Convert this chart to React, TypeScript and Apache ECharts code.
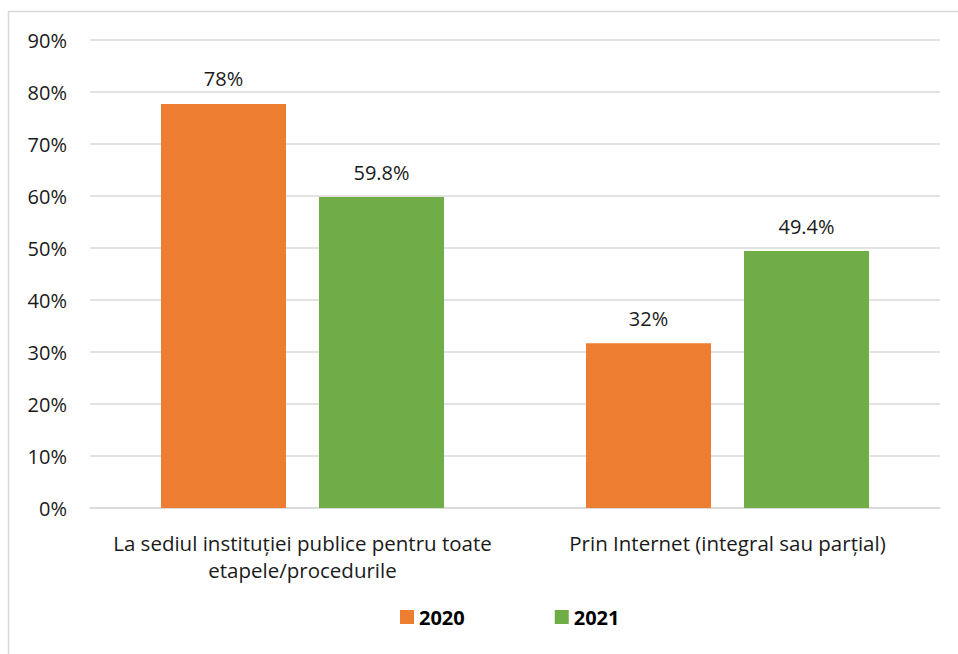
import React, { useEffect, useRef } from "react";
import * as echarts from "echarts";

const categories = [
  "La sediul instituției publice pentru toate\netapele/procedurile",
  "Prin Internet (integral sau parțial)",
];
const seriesNames = ["2020", "2021"];
const values2020 = [77.7, 31.7];
const values2021 = [59.8, 49.4];
const labels2020 = ["78%", "32%"];
const labels2021 = ["59.8%", "49.4%"];
const colors = ["#ED7D31", "#70AD47"];

const FONT = "'Open Sans', 'Noto Sans', sans-serif";

export default function App() {
  const ref = useRef<HTMLDivElement>(null);
  useEffect(() => {
    if (!ref.current) return;
    const chart = echarts.init(ref.current, null, { renderer: "svg" });
    const mkLabel = (labels: string[]) => ({
      show: true,
      position: "top",
      distance: 15,
      fontSize: 20,
      fontFamily: FONT,
      color: "#1a1a1a",
      formatter: (p: any) => labels[p.dataIndex],
    });
    chart.setOption({
      animation: false,
      backgroundColor: "#ffffff",
      textStyle: { fontFamily: FONT },
      graphic: [
        {
          type: "polyline",
          shape: { points: [[8.5, 660], [8.5, 11.5], [965, 11.5]] },
          style: { stroke: "#d9d9d9", lineWidth: 1.5, fill: null },
          silent: true,
        },
      ],
      legend: {
        data: seriesNames,
        bottom: 22,
        left: 395,
        itemWidth: 14,
        itemHeight: 14,
        itemGap: 90,
        icon: "rect",
        textStyle: { fontSize: 20, fontWeight: "bold", color: "#000000", fontFamily: FONT },
      },
      grid: { left: 90, right: 18, top: 40, bottom: 146 },
      xAxis: {
        type: "category",
        data: categories,
        axisLine: { show: true, lineStyle: { color: "#d9d9d9", width: 1.5 } },
        axisTick: { show: false },
        axisLabel: {
          interval: 0,
          fontSize: 20.5,
          color: "#1a1a1a",
          fontFamily: FONT,
          lineHeight: 27,
          margin: 21,
        },
      },
      yAxis: {
        type: "value",
        min: 0,
        max: 90,
        interval: 10,
        axisLine: { show: false },
        axisTick: { show: false },
        axisLabel: {
          formatter: "{value}%",
          fontSize: 20,
          color: "#1a1a1a",
          fontFamily: FONT,
          margin: 23,
        },
        splitLine: { lineStyle: { color: "#d9d9d9", width: 1.5 } },
      },
      series: [
        {
          name: seriesNames[0],
          type: "bar",
          data: values2020,
          barWidth: 125,
          barGap: "26.4%",
          itemStyle: { color: colors[0] },
          label: mkLabel(labels2020),
        },
        {
          name: seriesNames[1],
          type: "bar",
          data: values2021,
          barWidth: 125,
          barGap: "26.4%",
          itemStyle: { color: colors[1] },
          label: mkLabel(labels2021),
        },
      ],
    });
    return () => chart.dispose();
  }, []);
  return (
    <div
      ref={ref}
      style={{ position: "absolute", left: 0, top: 0, width: 958, height: 654 }}
    />
  );
}
